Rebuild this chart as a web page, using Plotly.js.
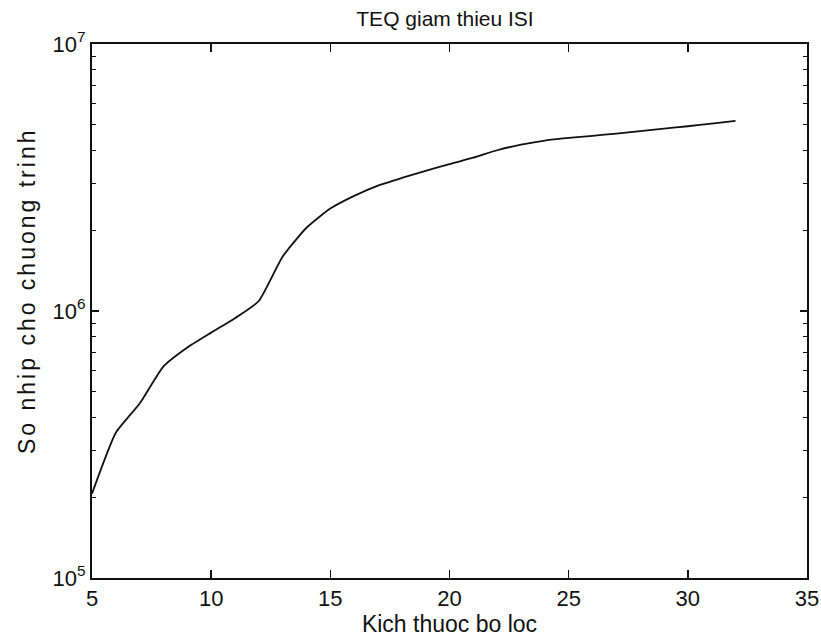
<!DOCTYPE html>
<html>
<head>
<meta charset="utf-8">
<script src="https://cdn.plot.ly/plotly-3.0.1.min.js"></script>
<style>
html,body{margin:0;padding:0;background:#fff;}
#chart{width:821px;height:642px;}
#chart .annotation-text{letter-spacing:3px;}
</style>
</head>
<body>
<div id="chart"></div>
<script>
// Filter size (x) and clock cycles (y)
const filterSize = [5, 6, 7, 8, 9, 10, 11, 12, 13, 14, 15, 16, 17, 18, 19, 20, 21, 22, 23, 24, 25, 26, 27, 28, 29, 30, 31, 32];
const cycles = [2.07e5, 3.5e5, 4.5e5, 6.2e5, 7.3e5, 8.3e5, 9.4e5, 1.09e6, 1.6e6, 2.05e6, 2.42e6, 2.7e6, 2.95e6, 3.15e6, 3.35e6, 3.55e6, 3.75e6, 4.0e6, 4.2e6, 4.35e6, 4.45e6, 4.53e6, 4.62e6, 4.72e6, 4.82e6, 4.92e6, 5.03e6, 5.15e6];
const xTicks = [5, 10, 15, 20, 25, 30, 35];
const yTicks = [1e5, 1e6, 1e7];
const yTickText = ['10<sup>5</sup>', '10<sup>6</sup>', '10<sup>7</sup>'];
const titleText = 'TEQ giam thieu ISI';
const xTitle = 'Kich thuoc bo loc';
const yTitle = 'So nhip cho chuong trinh';

const font = 'Liberation Sans, Arial, sans-serif';
const narrow = 'Liberation Sans Narrow, Arial Narrow, Liberation Sans, sans-serif';

const trace = {
  x: filterSize, y: cycles, type: 'scatter', mode: 'lines',
  line: {color: '#111', width: 1.8, shape: 'spline', smoothing: 0.5}, hoverinfo: 'x+y'
};

const layout = {
  width: 821, height: 642,
  margin: {l: 92, r: 14, t: 44, b: 64},
  paper_bgcolor: '#fff', plot_bgcolor: '#fff',
  showlegend: false,
  font: {family: font, color: '#111', size: 15},
  title: {text: titleText, font: {family: font, size: 21, color: '#111'},
          x: 445 / 821, xanchor: 'center', y: 1 - 19 / 642, yanchor: 'middle', yref: 'container'},
  xaxis: {
    range: [5, 35], tickvals: xTicks, ticktext: xTicks.map(String),
    ticks: 'inside', ticklen: 8, tickwidth: 1.5, tickcolor: '#111',
    showline: true, linecolor: '#111', linewidth: 2, mirror: 'ticks',
    showgrid: false, zeroline: false,
    tickfont: {family: narrow, size: 22, color: '#111'},
    title: {text: xTitle, font: {family: font, size: 23, color: '#111'}, standoff: 4}
  },
  yaxis: {
    type: 'log', range: [5, 7], tickvals: yTicks, ticktext: yTickText,
    ticks: 'inside', ticklen: 7, tickwidth: 1.5, tickcolor: '#111',
    showline: true, linecolor: '#111', linewidth: 2, mirror: 'ticks',
    showgrid: false, zeroline: false,
    tickfont: {family: narrow, size: 22, color: '#111'},
    minor: {ticks: 'inside', ticklen: 4, tickwidth: 1.2, tickcolor: '#111', dtick: 'D1', showgrid: false}
  },
  annotations: [{
    text: yTitle, textangle: -90, showarrow: false,
    xref: 'paper', yref: 'paper', x: (27 - 92) / 715, y: (578 - 291) / 534,
    xanchor: 'center', yanchor: 'middle',
    font: {family: font, size: 23, color: '#111'}
  }]
};

Plotly.newPlot('chart', [trace], layout, {displayModeBar: false, staticPlot: true});
</script>
</body>
</html>
